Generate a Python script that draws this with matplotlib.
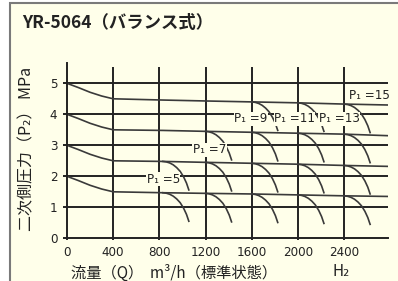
import matplotlib
matplotlib.use("Agg")
import matplotlib.pyplot as plt
from matplotlib.patches import Rectangle

# ---- data ----
q_main = [0, 100, 200, 300, 400, 830, 1200, 1600, 2000, 2400, 2780]
p2_set = [2, 3, 4, 5]
curve_p2_2 = [2.0, 1.86, 1.71, 1.59, 1.50, 1.47, 1.45, 1.43, 1.40, 1.37, 1.35]
curve_p2_3 = [3.0, 2.86, 2.71, 2.59, 2.50, 2.48, 2.45, 2.42, 2.39, 2.35, 2.32]
curve_p2_4 = [4.0, 3.86, 3.71, 3.59, 3.50, 3.48, 3.45, 3.42, 3.39, 3.36, 3.31]
curve_p2_5 = [5.0, 4.86, 4.71, 4.59, 4.50, 4.46, 4.43, 4.40, 4.37, 4.33, 4.30]
curves = {2: curve_p2_2, 3: curve_p2_3, 4: curve_p2_4, 5: curve_p2_5}

p1_values = [5, 7, 9, 11, 13]
p1_start_q = {5: 830, 7: 1200, 9: 1600, 11: 2000, 13: 2400}
branches = {2: [5, 7, 9, 11, 13], 3: [5, 7, 9, 11, 13], 4: [7, 9, 11, 13], 5: [9, 11, 13]}
# shape of the fall-off branch (offset from branch start)
droop_dq = [0, 30, 60, 90, 120, 150, 180, 205, 225]
droop_dp = [0, 0.015, 0.05, 0.11, 0.20, 0.32, 0.50, 0.70, 0.92]

x_ticks = [0, 400, 800, 1200, 1600, 2000, 2400]
x_ticklabels = ["0", "400", "800", "1200", "1600", "2000", "2400"]
y_ticks = [0, 1, 2, 3, 4, 5]
y_ticklabels = ["0", "1", "2", "3", "4", "5"]

p1_labels = ["P₁ =5", "P₁ =7", "P₁ =9", "P₁ =11", "P₁ =13", "P₁ =15"]
p1_label_pos = [(690, 1.91), (1089, 2.85), (1448, 3.85), (1793, 3.85), (2181, 3.85), (2440, 4.60)]

title = "YR-5064（バランス式）"
ylabel = "二次側圧力（P₂） MPa"
xlabel = "流量（Q）  m³/h（標準状態）"

# ---- figure ----
W, H = 398, 281
bg = "#FFFFEA"
ink = "#222222"
fig = plt.figure(figsize=(W / 100, H / 100), dpi=100, facecolor="white")

frame = Rectangle((10 / W, -0.05), 1.2, 1.05 - 3 / H, transform=fig.transFigure,
                  facecolor=bg, edgecolor="#7a7a7a", linewidth=1.5, zorder=-10)
fig.patches.append(frame)

x0, x1 = 67, 388
y0 = 238.3
ppu = 31.0
ymax = 5.65
ax = fig.add_axes([x0 / W, (H - y0) / H, (x1 - x0) / W, ymax * ppu / H])
ax.set_zorder(5)
ax.patch.set_visible(False)
ax.set_xlim(0, 2780)
ax.set_ylim(0, ymax)
for s in ["top", "right"]:
    ax.spines[s].set_visible(False)
for s in ["left", "bottom"]:
    ax.spines[s].set_color(ink)
    ax.spines[s].set_linewidth(1.4)

ax.set_xticks(x_ticks)
ax.set_xticklabels(x_ticklabels)
ax.set_yticks(y_ticks)
ax.set_yticklabels(y_ticklabels)
ax.tick_params(axis="x", length=1.5, width=1.4, color=ink, pad=4, labelsize=9.5, labelcolor=ink)
ax.tick_params(axis="y", length=3, width=1.4, color=ink, pad=4, labelsize=9.5, labelcolor=ink)
for lab in ax.get_xticklabels() + ax.get_yticklabels():
    lab.set_fontstretch("condensed")

# grid
ax.vlines(x_ticks[1:], 0, 5.54, color=ink, linewidth=1.4, zorder=1)
ax.hlines(y_ticks[1:], 0, 2780, color=ink, linewidth=1.4, zorder=1)

# curves
for p2 in p2_set:
    vals = curves[p2]
    ax.plot(q_main, vals, color="#3a3a3a", linewidth=1.2, zorder=2)
    for p1 in branches[p2]:
        qs = p1_start_q[p1]
        ps = vals[q_main.index(qs)]
        ax.plot([qs + d for d in droop_dq], [ps - d for d in droop_dp],
                color="#3a3a3a", linewidth=1.2, zorder=2)

for lab, (qx, py) in zip(p1_labels, p1_label_pos):
    ax.text(qx, py, lab, fontsize=9.5, color=ink, ha="left", va="center",
            fontstretch="condensed", zorder=4,
            bbox=dict(facecolor=bg, edgecolor="none", pad=0.3))

# texts
cjk = ["Noto Sans CJK JP", "DejaVu Sans"]
fig.text(22 / W, 1 - 23 / H, title, fontsize=12.5, fontweight="bold", family=cjk,
         color="#222222", ha="left", va="center")
fig.text(27 / W, 1 - 149 / H, ylabel, fontsize=11.5, family=cjk, color=ink,
         rotation=90, ha="center", va="center")
fig.text(71 / W, 1 - 273 / H, xlabel, fontsize=11, family=cjk, color=ink,
         ha="left", va="center")
fig.text(333 / W, 1 - 271 / H, "H₂", fontsize=11, family=cjk, color=ink,
         ha="left", va="center")

fig.savefig("out.png", dpi=100, facecolor="white")
